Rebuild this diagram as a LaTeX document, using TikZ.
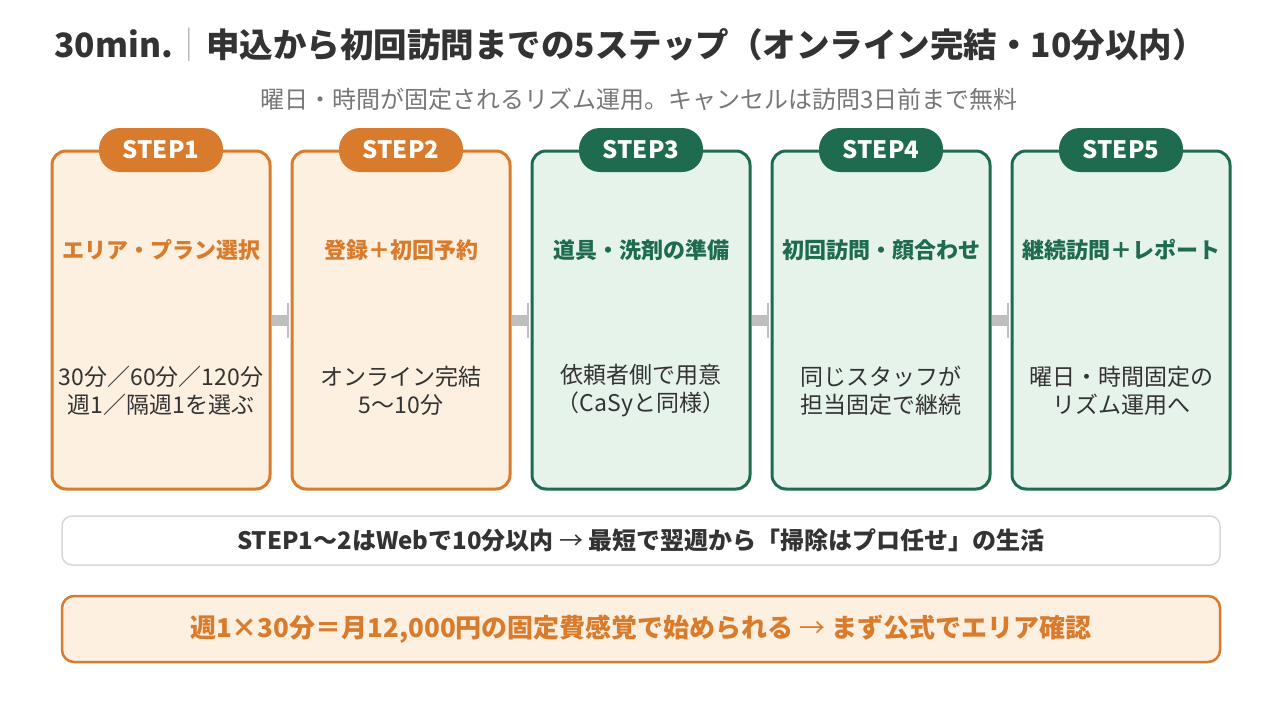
\documentclass[tikz,border=0pt]{standalone}
\usepackage{fontspec}
\setmainfont{Noto Sans CJK JP}
\usetikzlibrary{arrows.meta}
\definecolor{ink}{HTML}{333333}
\definecolor{subg}{HTML}{777777}
\definecolor{org}{HTML}{D97B2C}
\definecolor{orgfill}{HTML}{FDF0E0}
\definecolor{grn}{HTML}{1E6B50}
\definecolor{grnfill}{HTML}{E6F3EB}
\definecolor{conng}{HTML}{BFBFBF}
\definecolor{lightb}{HTML}{D8D8D8}
\tikzset{
  x=1pt,y=-1pt,
  stepbox/.style={draw, line width=3pt, rounded corners=14pt, minimum width=218pt, minimum height=338pt, outer sep=0pt, inner sep=0pt},
  ostep/.style={stepbox, draw=org, fill=orgfill},
  gstep/.style={stepbox, draw=grn, fill=grnfill},
  badge/.style={rounded corners=21pt, minimum width=124pt, minimum height=44pt, inner sep=0pt, text=white, font=\fontsize{24}{28}\selectfont\bfseries},
  obadge/.style={badge, fill=org},
  gbadge/.style={badge, fill=grn},
  sttl/.style={font=\fontsize{22}{26}\selectfont\bfseries, inner sep=0pt},
  sbody/.style={font=\fontsize{23}{28}\selectfont, text=ink, align=center, inner sep=0pt},
  conn/.style={draw=conng, line width=11pt, -{Bar[width=35pt,line width=2pt]}, shorten >=3pt, shorten <=2pt},
}
\begin{document}
\begin{tikzpicture}
\useasboundingbox (0,0) rectangle (1280,720);
\fill[white] (0,0) rectangle (1280,720);
% title
\node[text=ink, font=\fontsize{33.5}{40}\selectfont\bfseries, inner sep=0pt] (title) at (630,45) {30min.{\color{lightb!60!gray}\mdseries ｜}申込から初回訪問までの5ステップ（オンライン完結・10分以内）};
\node[text=subg, font=\fontsize{24}{28}\selectfont, inner sep=0pt] (sub) at (639,99) {曜日・時間が固定されるリズム運用。キャンセルは訪問3日前まで無料};
% step boxes
\node[ostep] (s1) at (161,320) {};
\node[ostep] (s2) at (401,320) {};
\node[gstep] (s3) at (641,320) {};
\node[gstep] (s4) at (881,320) {};
\node[gstep] (s5) at (1121,320) {};
% badges
\node[obadge] (b1) at (161,150) {STEP1};
\node[obadge] (b2) at (401,150) {STEP2};
\node[gbadge] (b3) at (641,150) {STEP3};
\node[gbadge] (b4) at (881,150) {STEP4};
\node[gbadge] (b5) at (1121,150) {STEP5};
% step titles
\node[sttl, text=org] (t1) at (161,250) {エリア・プラン選択};
\node[sttl, text=org] (t2) at (401,250) {登録＋初回予約};
\node[sttl, text=grn] (t3) at (641,250) {道具・洗剤の準備};
\node[sttl, text=grn] (t4) at (881,250) {初回訪問・顔合わせ};
\node[sttl, text=grn] (t5) at (1121,250) {継続訪問＋レポート};
% bodies
\node[sbody] (d1) at (161,391) {30分／60分／120分\\週1／隔週1を選ぶ};
\node[sbody] (d2) at (401,391) {オンライン完結\\5～10分};
\node[sbody] (d3) at (641,391) {依頼者側で用意\\（CaSyと同様）};
\node[sbody] (d4) at (881,391) {同じスタッフが\\担当固定で継続};
\node[sbody] (d5) at (1121,391) {曜日・時間固定の\\リズム運用へ};
% connectors
\draw[conn] (s1.east) -- (s2.west);
\draw[conn] (s2.east) -- (s3.west);
\draw[conn] (s3.east) -- (s4.west);
\draw[conn] (s4.east) -- (s5.west);
% bottom notes
\node[draw=lightb, line width=1.5pt, fill=white, rounded corners=10pt, minimum width=1158pt, minimum height=49pt, inner sep=0pt, text=ink, font=\fontsize{24}{28}\selectfont\bfseries] (n1) at (641,540.5) {STEP1～2はWebで10分以内 {\mdseries →} 最短で翌週から「掃除はプロ任せ」の生活};
\node[draw=org, line width=2.5pt, fill=orgfill, rounded corners=12pt, minimum width=1158pt, minimum height=66pt, inner sep=0pt, text=org, font=\fontsize{26}{30}\selectfont\bfseries] (n2) at (641,629) {週1×30分＝月12,000円の固定費感覚で始められる {\mdseries →} まず公式でエリア確認};
\end{tikzpicture}
\end{document}
